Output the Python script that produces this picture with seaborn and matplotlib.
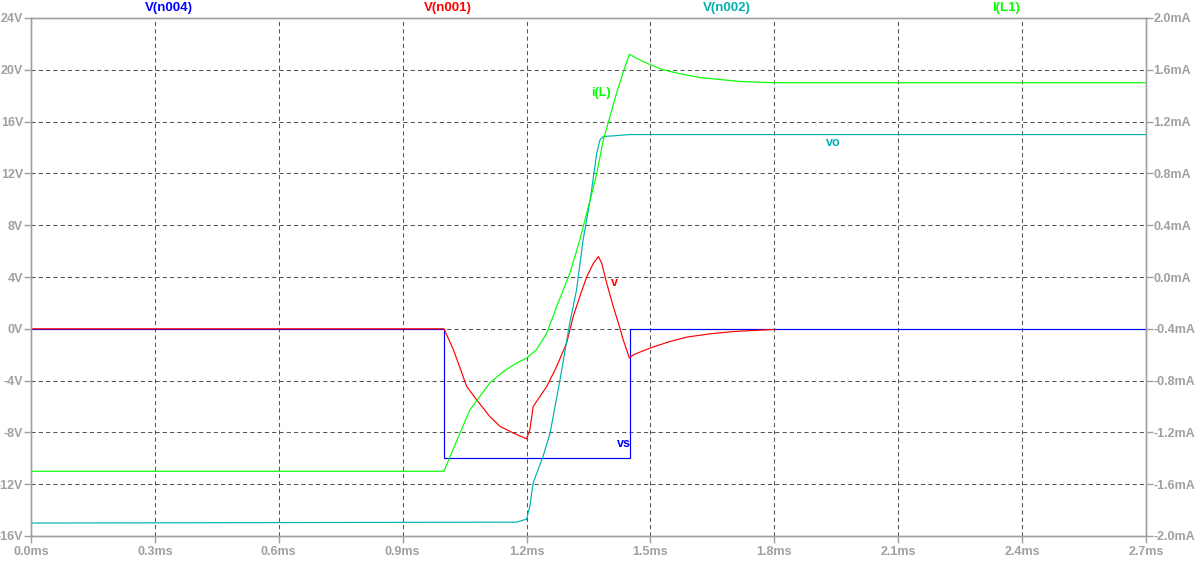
import numpy as np
import pandas as pd
import seaborn as sns
import matplotlib
matplotlib.use("Agg")
import matplotlib.pyplot as plt

# time in ms, voltages in V, current in mA
vs_t = [0.0, 1.0, 1.0, 1.45, 1.45, 2.7]
vs_v = [0.0, 0.0, -10.0, -10.0, 0.0, 0.0]

v_t = [0.0, 1.0, 1.023, 1.055, 1.079, 1.111, 1.136, 1.168, 1.2, 1.208, 1.216,
       1.249, 1.273, 1.297, 1.313, 1.329, 1.346, 1.362, 1.374, 1.382, 1.394,
       1.41, 1.426, 1.434, 1.449, 1.459, 1.499, 1.547, 1.588, 1.644, 1.701,
       1.749, 1.8]
v_v = [0.0, 0.0, -1.62, -4.45, -5.48, -6.77, -7.54, -8.05, -8.5, -7.8, -6.0,
       -4.45, -2.9, -1.1, 0.95, 2.5, 4.04, 5.07, 5.58, 5.07, 3.53,
       1.72, 0.05, -0.85, -2.26, -2.0, -1.49, -0.98, -0.64, -0.39, -0.21,
       -0.13, -0.05]

vo_t = [0.0, 1.176, 1.2, 1.208, 1.216, 1.24, 1.257, 1.281, 1.305, 1.321,
        1.337, 1.354, 1.37, 1.378, 1.386, 1.41, 1.45, 1.8, 2.7]
vo_v = [-15.0, -14.93, -14.7, -13.7, -11.9, -9.85, -8.05, -3.94, 0.5, 3.0,
        6.87, 9.95, 13.56, 14.6, 14.85, 14.9, 15.0, 15.0, 15.0]

il_t = [0.0, 1.0, 1.015, 1.039, 1.063, 1.087, 1.111, 1.144, 1.176, 1.2,
        1.224, 1.249, 1.273, 1.305, 1.329, 1.354, 1.37, 1.386, 1.402, 1.418,
        1.438, 1.449, 1.475, 1.499, 1.531, 1.571, 1.62, 1.717, 1.8, 2.7]
il_i = [-1.5, -1.5, -1.385, -1.205, -1.025, -0.922, -0.819, -0.729, -0.665, -0.626,
        -0.562, -0.433, -0.228, 0.03, 0.287, 0.595, 0.8, 1.06, 1.24, 1.42,
        1.62, 1.72, 1.675, 1.64, 1.60, 1.57, 1.54, 1.51, 1.5, 1.5]

x_ticks = [0.0, 0.3, 0.6, 0.9, 1.2, 1.5, 1.8, 2.1, 2.4, 2.7]
v_ticks = [-16, -12, -8, -4, 0, 4, 8, 12, 16, 20, 24]
i_ticks = [-2.0, -1.6, -1.2, -0.8, -0.4, 0.0, 0.4, 0.8, 1.2, 1.6, 2.0]

titles = ["V(n004)", "V(n001)", "V(n002)", "I(L1)"]

BLUE, RED, CYAN, GREEN = "#0000ff", "#ff0000", "#00b0b0", "#00ff00"
GRAY = "#a0a0a0"
LW = 0.85

sns.set_style("white")
plt.rcParams['font.family'] = ['Liberation Sans', 'DejaVu Sans']

fig = plt.figure(figsize=(12.02, 5.61), dpi=100)
ax = fig.add_axes([31 / 1202, 1 - 536 / 561, (1146 - 31) / 1202, (536 - 18) / 561])
ax2 = ax.twinx()

df_vs = pd.DataFrame({'t': vs_t, 'v': vs_v})
df_v = pd.DataFrame({'t': v_t, 'v': v_v})
df_vo = pd.DataFrame({'t': vo_t, 'v': vo_v})
df_il = pd.DataFrame({'t': il_t, 'i': il_i})

sns.lineplot(data=df_vs, x='t', y='v', ax=ax, color=BLUE, lw=LW, sort=False, estimator=None)
sns.lineplot(data=df_v, x='t', y='v', ax=ax, color=RED, lw=LW, sort=False, estimator=None)
sns.lineplot(data=df_vo, x='t', y='v', ax=ax, color=CYAN, lw=LW, sort=False, estimator=None)
sns.lineplot(data=df_il, x='t', y='i', ax=ax2, color=GREEN, lw=LW, sort=False, estimator=None)

ax.set_xlim(0, 2.7)
ax.set_ylim(-16, 24)
ax2.set_ylim(-2.0, 2.0)
ax.set_xticks(x_ticks)
ax.set_xticklabels([f"{t:.1f}ms" for t in x_ticks])
ax.set_yticks(v_ticks)
ax.set_yticklabels([f"{v}V" for v in v_ticks])
ax2.set_yticks(i_ticks)
ax2.set_yticklabels([f"{i:.1f}mA" for i in i_ticks])
ax.set_xlabel("")
ax.set_ylabel("")
ax2.set_ylabel("")

# dashed grid on inner ticks only
for t in x_ticks[1:-1]:
    ax.axvline(t, color="#555555", lw=0.75, ls=(0, (4, 3)), zorder=0)
for v in v_ticks[1:-1]:
    ax.axhline(v, color="#555555", lw=0.75, ls=(0, (4, 3)), zorder=0)

for a in (ax, ax2):
    for s in a.spines.values():
        s.set_color(GRAY)
        s.set_linewidth(1.0)
    a.tick_params(colors=GRAY, labelcolor=GRAY, length=5, width=1.0,
                  labelsize=9, pad=0.5)
    for lab in a.get_xticklabels() + a.get_yticklabels():
        lab.set_fontweight('bold')
ax.tick_params(axis='y', left=True, right=False)
ax.tick_params(axis='x', bottom=True, pad=2)
ax2.tick_params(axis='y', right=True)

# trace labels
ax.text(1.38, 18.2, "i(L)", color=GREEN, fontsize=9, fontweight='bold', ha='center', va='center')
ax.text(1.942, 14.35, "vo", color=CYAN, fontsize=9, fontweight='bold', ha='center', va='center')
ax.text(1.414, 3.55, "v", color=RED, fontsize=9, fontweight='bold', ha='center', va='center')
ax.text(1.436, -8.87, "vs", color=BLUE, fontsize=9, fontweight='bold', ha='center', va='center')

# header names
for name, col, xp in zip(titles, [BLUE, RED, CYAN, GREEN], [169, 448, 727, 1006]):
    fig.text(xp / 1202, 1 - 8 / 561, name, color=col, fontsize=9.5, fontweight='bold',
             ha='center', va='center')

fig.savefig("out.png", dpi=100)
